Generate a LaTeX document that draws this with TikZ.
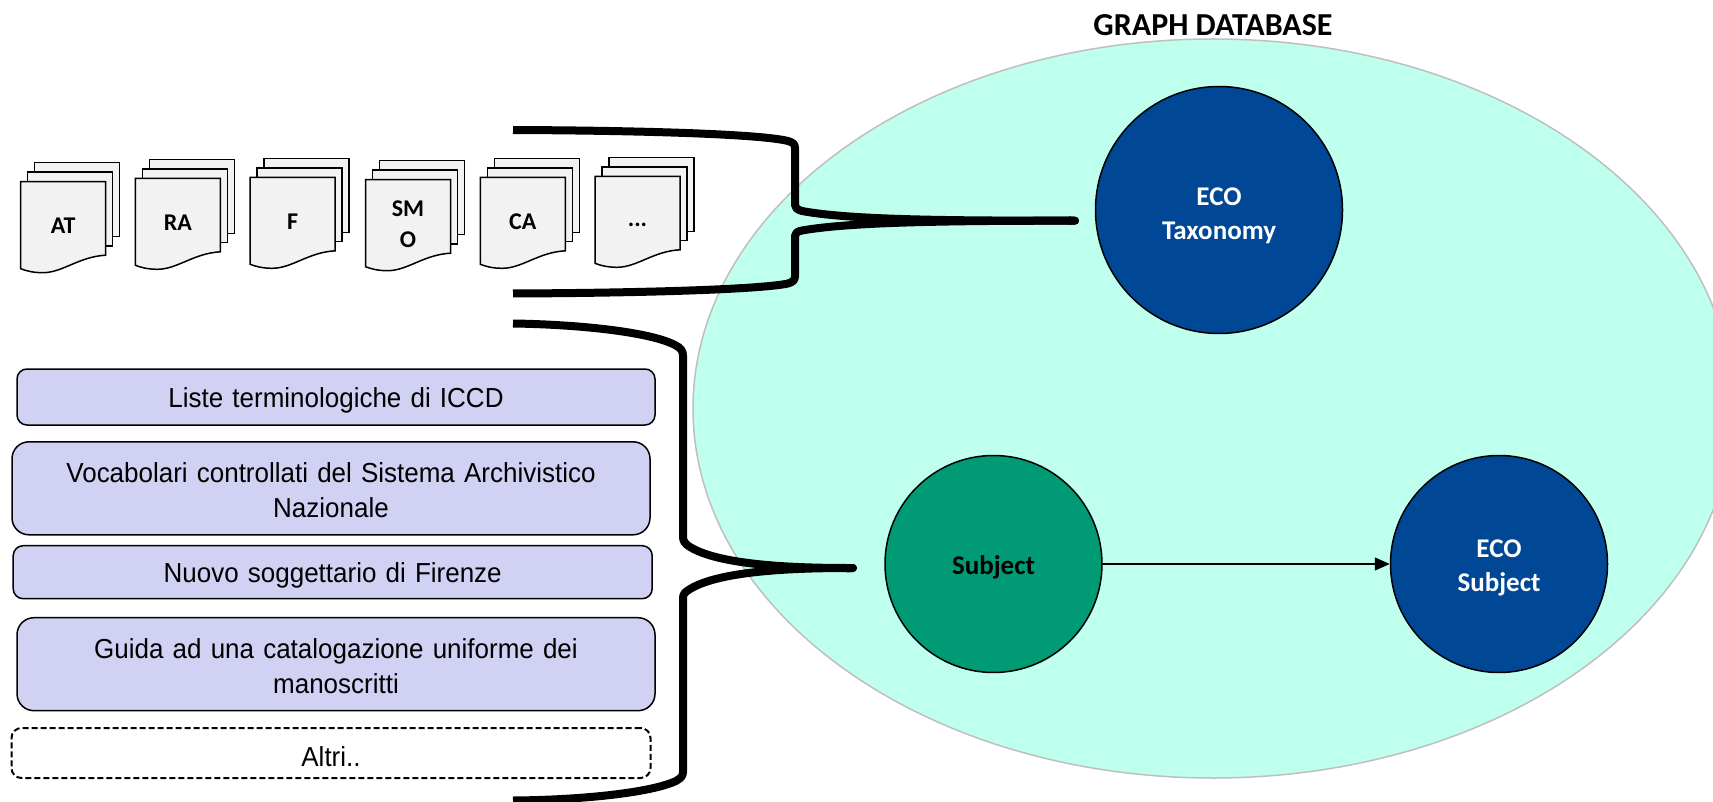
\documentclass[tikz,border=0pt]{standalone}
\usepackage{fontspec}
\setmainfont[FakeStretch=0.945]{Liberation Sans}
\newfontfamily\calfont{Carlito}
\usetikzlibrary{shapes.geometric,arrows.meta}
\definecolor{boxfill}{HTML}{D1D1F3}
\definecolor{dbfill}{HTML}{BFFFEE}
\definecolor{dbline}{HTML}{BFBFBF}
\definecolor{ecoblue}{HTML}{004795}
\definecolor{subjgreen}{HTML}{009B74}
\definecolor{sheet}{HTML}{F2F2F2}
\tikzset{
  listbox/.style={draw=black,line width=1.5pt,fill=boxfill,rectangle,inner sep=0pt,align=center,
    font=\fontsize{27.5}{35}\selectfont,text width=600pt},
  oneline/.style={execute at begin node={\rule{0pt}{27pt}}},
  twoline/.style={execute at begin node={\rule{0pt}{23pt}}},
  smallr/.style={rounded corners=10pt},
  bigr/.style={rounded corners=17pt},
  dashbox/.style={listbox,fill=white,line width=2pt,dash pattern=on 6pt off 3pt},
  bubble/.style={circle,draw=black,line width=1.5pt,inner sep=0pt,align=center,
    font=\calfont\bfseries\fontsize{27}{34.5}\selectfont},
  brace/.style={line width=8pt,line join=round,line cap=butt,-{Round Cap[]}},
  sheetline/.style={draw=black,line width=1.5pt,fill=sheet},
  doclabel/.style={inner sep=0pt,align=center,font=\calfont\bfseries\fontsize{24}{31}\selectfont},
  link/.style={draw=black,line width=1.2pt,-{Triangle[length=15pt,width=13pt]}}
}
\newcommand{\docstack}[4]{%
  \begin{scope}[shift={(#2,#3)}]
    \draw[sheetline] (14,-19) rectangle (99,55);
    \draw[sheetline] (7,-9.5) rectangle (92,64.3);
    \draw[sheetline] (0,0) -- (85,0) -- (85,73.5)
       .. controls (58,75) and (42,91) .. (22,91)
       .. controls (12,91) and (5,89) .. (0,87) -- cycle;
    \node[doclabel] (#1) at (42.5,#4) {\csname doctext#1\endcsname};
  \end{scope}}
\newcommand{\doctextAT}{AT}
\newcommand{\doctextRA}{RA}
\newcommand{\doctextF}{F}
\newcommand{\doctextSM}{SM\\O}
\newcommand{\doctextCA}{CA}
\newcommand{\doctextDOTS}{...}
\begin{document}
\begin{tikzpicture}[x=1pt,y=-1pt]
\useasboundingbox (0,0) rectangle (1713,802);
\clip (0,0) rectangle (1713,802);
\node[ellipse,draw=dbline,line width=1.5pt,fill=dbfill,minimum width=1040pt,minimum height=739pt,inner sep=0pt] (db) at (1213,408.5) {};
\node[inner sep=0pt,font=\calfont\bfseries\fontsize{32}{36}\selectfont] (title) at (1213,25) {GRAPH DATABASE};
% documents
\docstack{AT}{20.7}{181.7}{44.3}
\docstack{RA}{135.4}{178.3}{44.3}
\docstack{F}{250.2}{177.3}{44.7}
\docstack{SM}{365.5}{179.7}{44.6}
\docstack{CA}{480.3}{177.3}{44.7}
\docstack{DOTS}{595}{176.3}{48.5}
% lists
\node[listbox,oneline,smallr,minimum width=638pt,minimum height=56pt] (l1) at (336,397) {Liste terminologiche di ICCD};
\node[listbox,twoline,bigr,minimum width=638pt,minimum height=93pt] (l2) at (331,488.3) {Vocabolari controllati del Sistema Archivistico\\Nazionale};
\node[listbox,oneline,smallr,minimum width=639pt,minimum height=53pt] (l3) at (332.7,572.2) {Nuovo soggettario di Firenze};
\node[listbox,twoline,bigr,minimum width=638pt,minimum height=93pt] (l4) at (336,664.2) {Guida ad una catalogazione uniforme dei\\manoscritti};
\node[dashbox,oneline,smallr,minimum width=639pt,minimum height=50pt] (l5) at (331,753) {Altri..};
% circles
\node[bubble,fill=ecoblue,text=white,minimum size=247pt,text height=64pt] (tax) at (1219,210) {ECO\\Taxonomy};
\node[bubble,fill=subjgreen,text=black,minimum size=217pt,execute at begin node={\rule{0pt}{25pt}}] (subj) at (993.5,564) {Subject};
\node[bubble,fill=ecoblue,text=white,minimum size=217pt,text height=60pt] (ecos) at (1499,564) {ECO\\Subject};
\draw[link] (subj) -- (ecos);
% braces
\coordinate (t1a) at (513,130);
\coordinate (t1b) at (513,293.5);
\coordinate (t1tip) at (1079,220.7);
\coordinate (t2a) at (513,323.5);
\coordinate (t2b) at (513,800.5);
\coordinate (t2tip) at (857,568);
\draw[brace] (t1a) .. controls (640,130.5) and (760,134) .. (788,141)
   .. controls (793,142.5) and (795,144) .. (795,148) -- (795,205)
   .. controls (795,208) and (797,209.5) .. (802,211)
   .. controls (850,220) and (950,220.7) .. (t1tip);
\draw[brace] (t1b) .. controls (640,293) and (760,289.5) .. (788,283.5)
   .. controls (793,282) and (795,280) .. (795,276) -- (795,236)
   .. controls (795,233) and (797,231.5) .. (802,230.5)
   .. controls (850,222) and (950,220.7) .. (t1tip);
\draw[brace] (t2a) .. controls (580,324.5) and (650,332) .. (675,345)
   .. controls (681,348) and (683,351) .. (683,356) -- (683,537)
   .. controls (683,541) and (685,544) .. (690,547)
   .. controls (715,562) and (770,568) .. (t2tip);
\draw[brace] (t2b) .. controls (580,800) and (650,793) .. (676,781)
   .. controls (681,778) and (683,776) .. (683,772) -- (683,598)
   .. controls (683,594) and (685,592) .. (690,589)
   .. controls (715,574) and (770,568) .. (t2tip);
\end{tikzpicture}
\end{document}
